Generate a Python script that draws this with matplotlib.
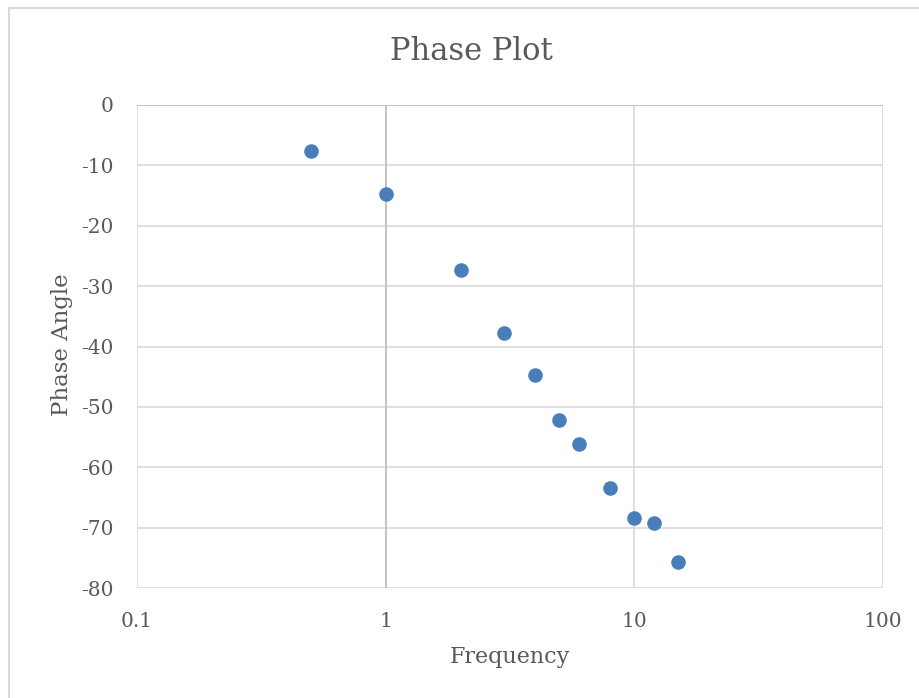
import matplotlib
matplotlib.use("Agg")
import matplotlib.pyplot as plt
from matplotlib.patches import Rectangle

freq = [0.5, 1, 2, 3, 4, 5, 6, 8, 10, 12, 15]
phase = [-7.6, -14.7, -27.3, -37.7, -44.7, -52.2, -56.1, -63.4, -68.4, -69.2, -75.7]

xticks = [0.1, 1, 10, 100]
xtick_labels = ["0.1", "1", "10", "100"]
yticks = [0, -10, -20, -30, -40, -50, -60, -70, -80]
ytick_labels = [str(v) for v in yticks]

plt.rcParams['font.family'] = ['DejaVu Serif']
txt = '#595959'
grid = '#d9d9d9'
axis_c = '#bfbfbf'

W, H = 920, 698
fig = plt.figure(figsize=(9.2, 6.98), dpi=100)
ax = fig.add_axes([137/W, 1 - 588/H, (883-137)/W, (588-105)/H])

# chart border
fig.patches.append(Rectangle((9/W, -0.1), 1.1, 1 - 8/H + 0.1, transform=fig.transFigure,
                             fill=False, edgecolor='#d9d9d9', linewidth=1.5))

ax.set_xscale('log')
ax.set_xlim(0.1, 100)
ax.set_ylim(-80, 0)
ax.set_xticks(xticks)
ax.set_xticklabels(xtick_labels)
ax.set_yticks(yticks)
ax.set_yticklabels(ytick_labels)
ax.minorticks_off()

for y in yticks:
    ax.axhline(y, color=grid, linewidth=1.2, zorder=0)
for x in xticks:
    ax.axvline(x, color=grid, linewidth=1.2, zorder=0)
# axes cross at y=0 and x=1
ax.axhline(0, color=axis_c, linewidth=1.2, zorder=1)
ax.axvline(1, color=axis_c, linewidth=1.2, zorder=1)

for s in ax.spines.values():
    s.set_visible(False)
ax.tick_params(length=0, labelsize=14.5, labelcolor=txt)
ax.tick_params(axis='y', pad=17)
ax.tick_params(axis='x', pad=17)

ax.scatter(freq, phase, s=110, color='#4a7ebb', zorder=3, linewidths=0)

fig.text(471/W, 1 - 52/H, 'Phase Plot', fontsize=22, color=txt, ha='center', va='center')
fig.text(510/W, 1 - 657/H, 'Frequency', fontsize=16, color=txt, ha='center', va='center')
fig.text(62/W, 1 - 345/H, 'Phase Angle', fontsize=16.5, color=txt, ha='center', va='center',
         rotation=90)

fig.savefig('out.png', dpi=100)
